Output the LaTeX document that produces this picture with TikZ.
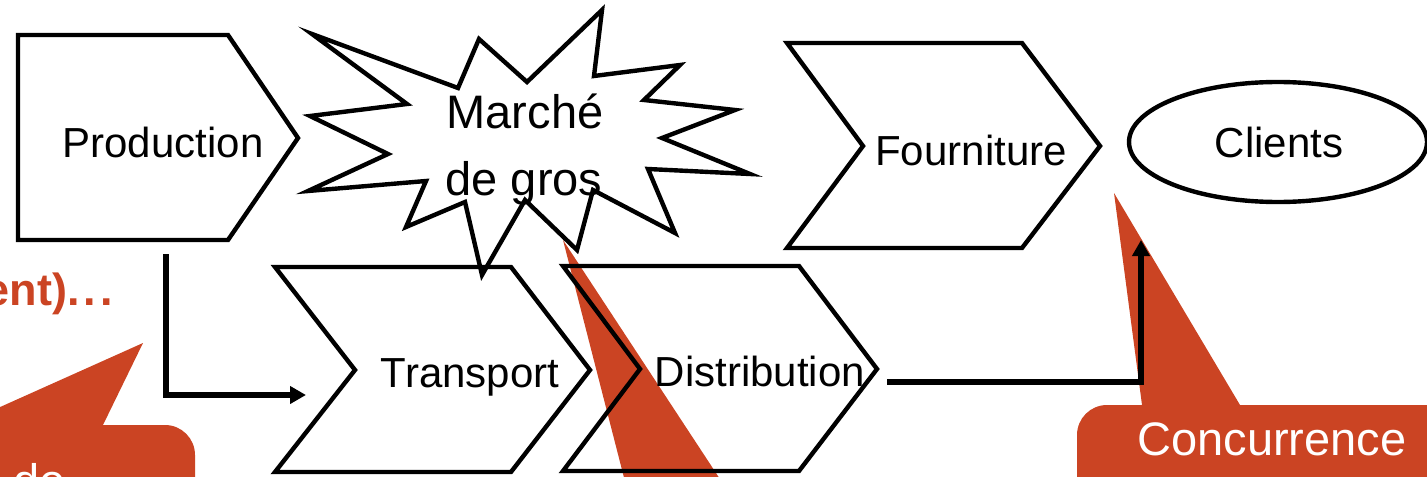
\documentclass[tikz,border=0pt]{standalone}
\usepackage{fontspec}
\setmainfont{Liberation Sans}
\usetikzlibrary{arrows.meta,shapes.geometric}
\definecolor{callred}{RGB}{203,68,35}
\begin{document}
\begin{tikzpicture}[x=0.5pt,y=-0.5pt,
  shapeline/.style={draw=black, line width=2.2pt, line join=miter},
  conn/.style={draw=black, line width=2.6pt, -{Triangle[length=8pt,width=8.5pt]}},
  lbl/.style={anchor=base, inner sep=0pt, font=\fontsize{21}{25}\selectfont},
  biglbl/.style={anchor=base, inner sep=0pt, font=\fontsize{23.5}{33.5}\selectfont},
  calltext/.style={anchor=base, inner sep=0pt, text=white, font=\fontsize{23.5}{28}\selectfont},
  callfill/.style={fill=callred, draw=none}]
\useasboundingbox (0,0) rectangle (1427,476);
\clip (0,0) rectangle (1427,476);
% red callouts (behind)
\fill[callfill] (-60,540) -- (-60,425) -- (-40,425) -- (143,343) -- (103,425) [rounded corners=15pt] -- (195,425) [sharp corners] -- (195,540) -- cycle;
\fill[callfill] (563,240) -- (640,540) -- (760,540) -- cycle;
\fill[callfill] (1077,540) [rounded corners=15pt] -- (1077,405) [sharp corners] -- (1142,405) -- (1114,193) -- (1240,405) -- (1480,405) -- (1480,540) -- cycle;
\node[calltext] (concT) at (1272,455) {Concurrence};
\node[calltext, anchor=base west] (deT) at (13,497) {de};
\node[anchor=base east, inner sep=0pt, text=callred, font=\fontsize{22.5}{27}\selectfont\bfseries] (entT) at (113,305) {ent).\kern2pt.\kern2pt.};
% shapes
\draw[shapeline] (18,35) -- (228,35) -- (298,138) -- (228,240) -- (18,240) -- cycle;
\draw[shapeline] (312,34) -- (458,88) -- (479,39) -- (527,82) -- (602,10) -- (594,76) -- (680,65) -- (644,100) -- (735,110) -- (662,138) -- (750,174) -- (648,169) -- (675,233) -- (593,190) -- (577,250) -- (525,200) -- (482,275) -- (465,202) -- (406,227) -- (426,181) -- (308,191) -- (388,154) -- (310,116) -- (407,104) -- cycle;
\draw[shapeline] (787,43) -- (1022,43) -- (1100,146) -- (1022,248) -- (787,248) -- (863,146) -- cycle;
\draw[shapeline] (275,267) -- (511,267) -- (590,370) -- (511,472) -- (275,472) -- (355,370) -- cycle;
\draw[shapeline] (563,266) -- (799,266) -- (877,369) -- (799,471) -- (563,471) -- (640,369) -- cycle;
\node[shapeline, ellipse, minimum width=149pt, minimum height=60pt, inner sep=0pt] (clients) at (1278,142) {};
% labels
\node[lbl] (prodT) at (163,157) {Production};
\node[biglbl] (mdg1) at (525,128) {Marché};
\node[biglbl] (mdg2) at (524,195) {de gros};
\node[lbl] (fournT) at (971,165) {Fourniture};
\node[lbl] (transT) at (470,387) {Transport};
\node[lbl] (distT) at (760,386) {Distribution};
\node[lbl] (clientsT) at (1279,157) {Clients};
% connectors
\coordinate (prodout) at (166,254);
\coordinate (transin) at (306,395);
\coordinate (distout) at (887,382);
\coordinate (clientsin) at (1141,240);
\draw[conn] (prodout) |- (transin);
\draw[conn] (distout) -| (clientsin);
\end{tikzpicture}
\end{document}
